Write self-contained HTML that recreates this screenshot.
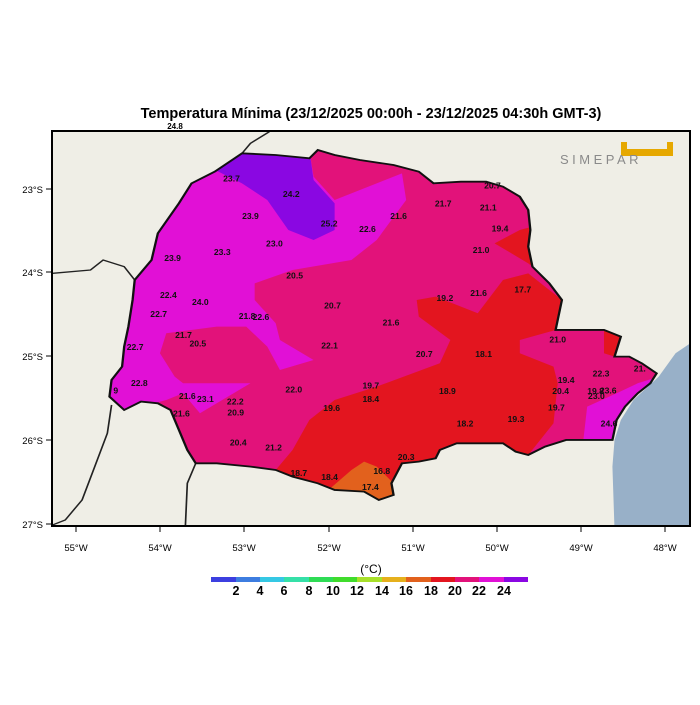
<!DOCTYPE html>
<html><head><meta charset="utf-8"><style>
body{margin:0;background:#fff;width:700px;height:700px;overflow:hidden;font-family:"Liberation Sans",sans-serif}
</style></head><body>
<svg width="700" height="700" xmlns="http://www.w3.org/2000/svg" font-family="Liberation Sans, sans-serif">
<rect width="700" height="700" fill="#fff"/>
<text x="371" y="118" font-size="14.5" font-weight="bold" text-anchor="middle">Temperatura Mínima (23/12/2025 00:00h - 23/12/2025 04:30h GMT-3)</text>
<text x="175" y="129" font-size="8" font-weight="bold" text-anchor="middle">24.8</text>
<defs>
<clipPath id="st"><path id="stp" d="M415,215 L480,160 560,165 640,175 660,150 700,165 760,180 840,195 900,215 935,250 1000,245 1060,245 1100,260 1140,290 1160,330 1165,390 1160,440 1170,500 1210,550 1240,600 1225,690 1280,690 1340,690 1380,710 1365,770 1400,770 1430,790 1465,820 1450,850 1420,880 1390,920 1370,960 1365,990 1360,1020 1290,1020 1250,1020 1200,1040 1160,1065 1130,1055 1100,1030 1040,1030 990,1030 950,1050 940,1075 900,1085 860,1090 835,1150 840,1185 805,1200 770,1175 700,1170 660,1150 600,1130 560,1110 500,1100 420,1090 370,1090 350,1050 330,990 310,930 280,910 240,905 200,930 165,890 170,840 195,800 200,740 210,680 220,600 225,540 265,480 280,400 330,310 360,250 Z"/></clipPath>
<clipPath id="fr"><rect x="52" y="131" width="638" height="395"/></clipPath>
</defs>
<g clip-path="url(#fr)">
<rect x="52" y="131" width="638" height="395" fill="#efeee6"/>
<g transform="translate(40,100) scale(0.4209,0.3333)">
<path d="M1545,730 L1510,760 1470,830 1410,900 1380,960 1365,1020 1360,1100 1365,1290 1545,1290 Z" fill="#98b0c8"/>
<g fill="none" stroke="#222" stroke-width="4">
<path d="M30,520 L120,510 150,480 200,500 225,540"/>
<path d="M545,95 L500,130 480,160"/>
<path d="M170,915 L160,1000 130,1100 100,1200 60,1260 30,1275"/>
<path d="M370,1090 L350,1150 345,1290"/>
</g>
<g clip-path="url(#st)">
<rect x="0" y="0" width="1600" height="1300" fill="#e2127a"/>
<path d="M100,100 L640,150 650,230 700,300 860,220 870,300 800,420 740,480 600,510 510,550 510,600 560,670 570,720 650,780 570,810 540,740 490,680 420,680 300,700 285,760 320,830 340,850 500,850 380,940 340,880 300,900 150,950 100,950 Z" fill="#e110d6"/>
<path d="M400,200 L480,150 640,150 650,240 700,310 700,390 650,420 590,390 540,300 480,250 Z" fill="#8a07e2"/>
<path d="M640,960 L700,900 800,860 950,790 975,720 900,650 895,600 940,590 1040,640 1100,540 1160,520 1240,600 1225,690 1140,720 1140,760 1220,800 1230,850 1220,970 1160,1065 1100,1090 800,1250 560,1110 600,1050 Z" fill="#e3151f"/>
<path d="M1080,430 L1140,390 1170,380 1170,500 1160,490 Z" fill="#e3151f"/>
<path d="M1340,690 L1380,710 1365,770 1340,760 Z" fill="#e3151f"/>
<path d="M690,1165 L740,1110 770,1085 800,1100 840,1150 840,1220 760,1200 Z" fill="#e2611d"/>
<path d="M1290,1030 L1300,920 1370,880 1420,850 1470,830 1400,960 1365,1030 Z" fill="#e110d6"/>
</g>
<use href="#stp" fill="none" stroke="#111" stroke-width="5.5"/>
</g>
<g transform="translate(40,100) scale(0.4209)" font-size="20.5" font-weight="bold" text-anchor="middle" fill="#111">
<text x="455" y="194">23.7</text><text x="597" y="230">24.2</text><text x="500" y="283">23.9</text><text x="687" y="301">25.2</text><text x="778" y="314">22.6</text><text x="852" y="283">21.6</text><text x="958" y="253">21.7</text><text x="1065" y="263">21.1</text><text x="1093" y="313">19.4</text><text x="1075" y="210">20.7</text><text x="557" y="348">23.0</text><text x="433" y="368">23.3</text><text x="315" y="382">23.9</text><text x="1048" y="364">21.0</text><text x="605" y="424">20.5</text><text x="1147" y="457">17.7</text><text x="1042" y="466">21.6</text><text x="962" y="478">19.2</text><text x="305" y="471">22.4</text><text x="381" y="487">24.0</text><text x="282" y="516">22.7</text><text x="492" y="520">21.8</text><text x="525" y="523">22.6</text><text x="695" y="495">20.7</text><text x="834" y="536">21.6</text><text x="341" y="566">21.7</text><text x="375" y="586">20.5</text><text x="226" y="594">22.7</text><text x="688" y="590">22.1</text><text x="913" y="611">20.7</text><text x="1054" y="611">18.1</text><text x="1230" y="576">21.0</text><text x="1333" y="657">22.3</text><text x="1425" y="645">21.</text><text x="236" y="680">22.8</text><text x="786" y="685">19.7</text><text x="968" y="699">18.9</text><text x="603" y="695">22.0</text><text x="1250" y="672">19.4</text><text x="1237" y="699">20.4</text><text x="1320" y="699">19.8</text><text x="1350" y="697">23.6</text><text x="1322" y="710">23.0</text><text x="350" y="710">21.6</text><text x="393" y="717">23.1</text><text x="464" y="723">22.2</text><text x="786" y="718">18.4</text><text x="336" y="752">21.6</text><text x="465" y="749">20.9</text><text x="693" y="739">19.6</text><text x="1227" y="738">19.7</text><text x="1131" y="765">19.3</text><text x="1010" y="776">18.2</text><text x="1352" y="776">24.6</text><text x="471" y="821">20.4</text><text x="555" y="833">21.2</text><text x="870" y="855">20.3</text><text x="615" y="893">18.7</text><text x="688" y="903">18.4</text><text x="812" y="889">16.8</text><text x="785" y="927">17.4</text><text x="180" y="697">9</text>
</g>
<g transform="translate(560,142)">
<path d="M61,0 H113 V14 H61 Z M67,0 V7 H107 V0 Z" fill="#e6a800" fill-rule="evenodd"/>
<text x="0" y="22" font-size="13" fill="#8a8a8a" letter-spacing="3.5">SIMEPAR</text>
</g>
</g>
<rect x="52" y="131" width="638" height="395" fill="none" stroke="#000" stroke-width="2"/>
<g stroke="#000" stroke-width="1">
<line x1="46" y1="189" x2="52" y2="189"/><line x1="46" y1="272" x2="52" y2="272"/><line x1="46" y1="356" x2="52" y2="356"/><line x1="46" y1="440" x2="52" y2="440"/><line x1="46" y1="524" x2="52" y2="524"/>
<line x1="76" y1="526" x2="76" y2="532"/><line x1="160" y1="526" x2="160" y2="532"/><line x1="244" y1="526" x2="244" y2="532"/><line x1="329" y1="526" x2="329" y2="532"/><line x1="413" y1="526" x2="413" y2="532"/><line x1="497" y1="526" x2="497" y2="532"/><line x1="581" y1="526" x2="581" y2="532"/><line x1="665" y1="526" x2="665" y2="532"/>
</g>
<g font-size="9.5" text-anchor="end"><text x="43" y="193">23°S</text><text x="43" y="276">24°S</text><text x="43" y="360">25°S</text><text x="43" y="444">26°S</text><text x="43" y="528">27°S</text></g>
<g font-size="9.5" text-anchor="middle"><text x="76" y="551">55°W</text><text x="160" y="551">54°W</text><text x="244" y="551">53°W</text><text x="329" y="551">52°W</text><text x="413" y="551">51°W</text><text x="497" y="551">50°W</text><text x="581" y="551">49°W</text><text x="665" y="551">48°W</text></g>
<text x="371" y="573" font-size="12" text-anchor="middle">(°C)</text>
<g>
<rect x="211" y="577" width="25" height="5" fill="#3c3fe0"/><rect x="236" y="577" width="24" height="5" fill="#3d7de0"/><rect x="260" y="577" width="24" height="5" fill="#35c8e4"/><rect x="284" y="577" width="25" height="5" fill="#35e0a8"/><rect x="309" y="577" width="24" height="5" fill="#2fdc55"/><rect x="333" y="577" width="24" height="5" fill="#40dc2c"/><rect x="357" y="577" width="25" height="5" fill="#a8e02a"/><rect x="382" y="577" width="24" height="5" fill="#e6b01c"/><rect x="406" y="577" width="25" height="5" fill="#e2611d"/><rect x="431" y="577" width="24" height="5" fill="#e3151f"/><rect x="455" y="577" width="24" height="5" fill="#e2127a"/><rect x="479" y="577" width="25" height="5" fill="#e110d6"/><rect x="504" y="577" width="24" height="5" fill="#8a07e2"/>
</g>
<g font-size="12.5" font-weight="bold" text-anchor="middle"><text x="236" y="595">2</text><text x="260" y="595">4</text><text x="284" y="595">6</text><text x="309" y="595">8</text><text x="333" y="595">10</text><text x="357" y="595">12</text><text x="382" y="595">14</text><text x="406" y="595">16</text><text x="431" y="595">18</text><text x="455" y="595">20</text><text x="479" y="595">22</text><text x="504" y="595">24</text></g>
</svg>
</body></html>
